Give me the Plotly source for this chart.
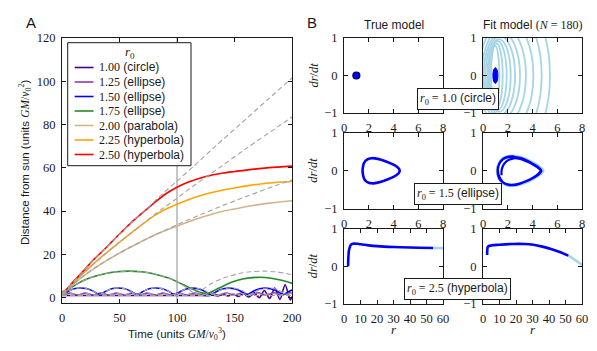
import plotly.graph_objects as go

PAGE_W, PAGE_H = 597, 351
BODY_MARGIN = 8  # default browser body margin around the plot div
W, H = PAGE_W - BODY_MARGIN, PAGE_H - BODY_MARGIN
SERIF = "Liberation Serif"
SANS = "Liberation Sans"
INK = "#1a1a1a"
GREY_DASH = "#a3a3a3"
DARK_BLUE = "#0000ff"
LIGHT_BLUE = "#a6d5e6"

# ---------------- Panel A data ----------------
r0_labels = ["1.00", "1.25", "1.50", "1.75", "2.00", "2.25", "2.50"]
orbit_kinds = ["circle", "ellipse", "ellipse", "ellipse", "parabola", "hyperbola", "hyperbola"]
series_colors = ["#4b0082", "#9a35b5", "#0000ff", "#228b22", "#d2b48c", "#ffa500", "#ff0000"]
train_end = 100

# r0 = 1.00 (circle)
circ_true_t = [0, 200]
circ_true_r = [1.0, 1.0]
circ_fit_t = [0, 25, 50, 75, 100, 118, 126, 131, 135.5, 140, 144.5, 149, 153.5, 158, 162.5,
              167, 171.5, 176, 180.5, 185, 189.5, 194, 198.5, 200]
circ_fit_r = [1.0, 1.03, 0.97, 1.03, 1.0, 1.05, 0.95, 1.2, 0.85, 1.4, 0.75, 1.6, 0.6, 1.9, 0.3,
              2.3, 0.0, 3.3, -0.4, 4.5, -0.8, 6.0, -1.0, 0.5]

# r0 = 1.25 (ellipse)
e125_true_t = [0, 6.76, 13.52, 20.28, 27.04, 33.8, 40.56, 47.32, 54.08, 60.84, 67.6, 74.36, 81.12,
               87.88, 94.64, 101.4, 108.16, 114.92, 121.68, 128.44, 135.2, 141.96, 148.72, 155.48,
               162.24, 169.0, 175.76, 182.52, 189.28, 196.04, 200]
e125_true_r = [1.25, 2.08, 1.25, 2.08, 1.25, 2.08, 1.25, 2.08, 1.25, 2.08, 1.25, 2.08, 1.25, 2.08,
               1.25, 2.08, 1.25, 2.08, 1.25, 2.08, 1.25, 2.08, 1.25, 2.08, 1.25, 2.08, 1.25, 2.08,
               1.25, 2.08, 1.7]
e125_fit_t = [0, 6.76, 13.52, 20.28, 27.04, 33.8, 40.56, 47.32, 54.08, 60.84, 67.6, 74.36, 81.12,
              87.88, 94.64, 101.5, 108.4, 115.3, 122.2, 129.1, 136.0, 142.9, 149.8, 156.7, 163.6,
              170.5, 177.4, 184.3, 191.2, 198.1, 200]
e125_fit_r = [1.25, 2.08, 1.25, 2.08, 1.25, 2.08, 1.25, 2.08, 1.25, 2.08, 1.25, 2.08, 1.25, 2.08,
              1.25, 2.08, 1.25, 2.1, 1.22, 2.12, 1.2, 2.15, 1.18, 2.18, 1.15, 2.2, 1.12, 2.25,
              1.1, 2.25, 2.0]

# r0 = 1.50 (ellipse)
e150_true_t = [0, 1.4, 3, 5.2, 8, 11.4, 16.3, 21.2, 24.6, 27.5, 29.6, 31.2, 32.65,
               34.05, 35.65, 37.85, 40.65, 44.05, 48.95, 53.85, 57.25, 60.15, 62.25, 63.85, 65.3,
               66.7, 68.3, 70.5, 73.3, 76.7, 81.6, 86.5, 89.9, 92.8, 94.9, 96.5, 97.95,
               99.35, 100.95, 103.15, 105.95, 109.35, 114.25, 119.15, 122.55, 125.45, 127.55, 129.15, 130.6,
               132.0, 133.6, 135.8, 138.6, 142.0, 146.9, 151.8, 155.2, 158.1, 160.2, 161.8, 163.25,
               164.65, 166.25, 168.45, 171.25, 174.65, 179.55, 184.45, 187.85, 190.75, 192.85, 194.45, 195.9,
               197.3, 198.9, 200]
e150_true_r = [1.5, 1.7, 2.2, 2.9, 3.6, 4.2, 4.5, 4.2, 3.6, 2.9, 2.2, 1.7, 1.5,
               1.7, 2.2, 2.9, 3.6, 4.2, 4.5, 4.2, 3.6, 2.9, 2.2, 1.7, 1.5,
               1.7, 2.2, 2.9, 3.6, 4.2, 4.5, 4.2, 3.6, 2.9, 2.2, 1.7, 1.5,
               1.7, 2.2, 2.9, 3.6, 4.2, 4.5, 4.2, 3.6, 2.9, 2.2, 1.7, 1.5,
               1.7, 2.2, 2.9, 3.6, 4.2, 4.5, 4.2, 3.6, 2.9, 2.2, 1.7, 1.5,
               1.7, 2.2, 2.9, 3.6, 4.2, 4.5, 4.2, 3.6, 2.9, 2.2, 1.7, 1.5,
               1.7, 2.2, 2.5]
e150_fit_tail_t = [99.3, 100.85, 102.95, 105.65, 108.95, 113.7, 118.45, 121.75, 124.45, 126.55, 128.1, 129.45,
                   130.8, 132.35, 134.45, 137.15, 140.45, 145.2, 149.95, 153.25, 155.95, 158.05, 159.6, 160.95,
                   162.3, 163.85, 165.95, 168.65, 171.95, 176.7, 181.45, 184.75, 187.45, 189.55, 191.1, 192.45,
                   193.8, 195.35, 197.45, 200]
e150_fit_tail_r = [1.7, 2.2, 2.85, 3.5, 4.1, 4.4, 4.1, 3.5, 2.85, 2.2, 1.7, 1.5,
                   1.7, 2.2, 2.85, 3.5, 4.1, 4.4, 4.1, 3.5, 2.85, 2.2, 1.7, 1.5,
                   1.7, 2.2, 2.85, 3.5, 4.1, 4.4, 4.1, 3.5, 2.85, 2.2, 1.7, 1.5,
                   1.7, 2.2, 2.85, 3.5]
e150_fit_t = e150_true_t[:37] + e150_fit_tail_t
e150_fit_r = e150_true_r[:37] + e150_fit_tail_r

# r0 = 1.75 (ellipse)
e175_true_t = [0, 2.6, 6.8, 13.9, 24.4, 38.0, 47.2, 58.2, 69.2, 78.4, 92.0, 102.5, 109.6, 113.8,
               116.4, 119.0, 123.2, 130.3, 140.8, 154.4, 163.6, 174.6, 185.6, 194.8, 200]
e175_true_r = [1.75, 2.39, 4.16, 6.63, 9.18, 11.21, 11.95, 12.25, 11.95, 11.21, 9.18, 6.63, 4.16, 2.39,
               1.75, 2.39, 4.16, 6.63, 9.18, 11.21, 11.95, 12.25, 11.95, 11.21, 10.6]
e175_fit_t = [0, 2.6, 6.8, 13.9, 24.4, 38.0, 47.2, 58.2, 69.2, 78.4, 92.0, 100, 106, 112, 118, 122.5,
              125.5, 128.5, 133, 140, 148, 157, 170, 182, 192, 200]
e175_fit_r = [1.75, 2.39, 4.16, 6.63, 9.18, 11.21, 11.95, 12.25, 11.95, 11.21, 9.18, 7.4, 5.9, 4.3, 2.9,
              2.1, 1.9, 2.3, 3.5, 5.3, 7.2, 8.6, 9.4, 9.0, 7.9, 6.6]

# r0 = 2.00 (parabola)
par_true_t = [0, 5.3, 10.5, 18.7, 30.8, 48, 71.2, 101.3, 119.4, 139.5, 161.9, 186.7, 200]
par_true_r = [2, 4, 6.5, 10, 14.5, 20, 26.5, 34, 38.1, 42.5, 47.1, 52, 54.4]
par_fit_t = [0, 5.3, 10.5, 18.7, 30.8, 48, 71.2, 85, 100, 112, 125, 140, 150, 165, 180, 200]
par_fit_r = [2, 4, 6.5, 10, 14.5, 20, 26.5, 30.0, 33.1, 35.4, 37.7, 39.9, 41.0, 42.5, 43.7, 44.8]

# r0 = 2.25 (hyperbola)
h225_true_t = [0, 4.1, 12.7, 22, 31.4, 46.9, 68.4, 82, 97.6, 116, 136.7, 160, 188.6, 200]
h225_true_r = [2.25, 3.7, 8.4, 13.0, 17.5, 24.3, 33.3, 39.0, 45.0, 52.3, 60.0, 68.9, 79.3, 83.5]
h225_fit_t = [0, 4.1, 12.7, 22, 31.4, 46.9, 68.4, 80, 90, 100, 112, 125, 140, 150, 165, 180, 200]
h225_fit_r = [2.25, 3.7, 8.4, 13.0, 17.5, 24.3, 33.3, 37.8, 40.9, 43.2, 45.7, 47.9, 49.8, 50.7, 52.0, 53.0, 53.7]

# r0 = 2.50 (hyperbola)
h250_true_t = [0, 3.2, 8.5, 19, 28, 38.5, 50, 62, 73.5, 86, 100, 115, 134.5, 155, 179.6, 200]
h250_true_r = [2.5, 3.5, 6.6, 12.6, 17.8, 23.2, 29.4, 35.6, 41.0, 47.3, 53.9, 61.0, 70.5, 80.2, 91.9, 101.5]
h250_fit_t = [0, 3.2, 8.5, 19, 28, 38.5, 50, 62, 73.5, 82, 90, 100, 110, 125, 140, 150, 165, 180, 200]
h250_fit_r = [2.5, 3.5, 6.6, 12.6, 17.8, 23.2, 29.4, 35.6, 40.8, 44.6, 47.9, 51.0, 53.4, 56.0, 57.6, 58.3,
              59.3, 60.1, 60.8]

fit_series = [(circ_fit_t, circ_fit_r), (e125_fit_t, e125_fit_r), (e150_fit_t, e150_fit_r),
              (e175_fit_t, e175_fit_r), (par_fit_t, par_fit_r), (h225_fit_t, h225_fit_r),
              (h250_fit_t, h250_fit_r)]
true_series = [(circ_true_t, circ_true_r), (e125_true_t, e125_true_r), (e150_true_t, e150_true_r),
               (e175_true_t, e175_true_r), (par_true_t, par_true_r), (h225_true_t, h225_true_r),
               (h250_true_t, h250_true_r)]

# ---------------- Panel B data (phase space r vs dr/dt) ----------------
true10_r = [1.0]
true10_v = [0.0]
fit10_blob_r = [1.2, 1.14, 1.0, 0.86, 0.8, 0.86, 1.0, 1.14, 1.2]
fit10_blob_v = [0, 0.15, 0.21, 0.15, 0, -0.15, -0.21, -0.15, 0]
fit10_loop_left = [0.65, 0.55, 0.45, 0.35, 0.2, 0.05, -0.1, -0.3, -0.5, -0.7]
fit10_loop_right = [1.32, 1.59, 1.91, 2.24, 2.59, 2.99, 3.47, 4.07, 4.74, 5.41]
fit10_loop_half = [0.79, 0.86, 0.92, 0.97, 1.05, 1.15, 1.3, 1.5, 1.8, 2.1]

true15_r = [1.5, 1.55, 1.6, 1.75, 2.0, 2.25, 2.5, 3.0, 3.5, 4.0, 4.25, 4.45, 4.5, 4.45, 4.25, 4.0,
            3.5, 3.0, 2.5, 2.25, 2.0, 1.75, 1.6, 1.55, 1.5]
true15_v = [0, 0.13, 0.19, 0.27, 0.32, 0.333, 0.327, 0.289, 0.233, 0.161, 0.113, 0.05, 0, -0.05,
            -0.113, -0.161, -0.233, -0.289, -0.327, -0.333, -0.32, -0.27, -0.19, -0.13, 0]
fit15_r = [1.5, 1.5, 1.6, 1.8, 2.1, 2.5, 3.0, 3.5, 4.0, 4.4, 4.65, 4.4, 4.0, 3.5, 3.0, 2.5, 2.0, 1.6,
           1.35, 1.2, 1.3, 1.6, 2.0, 2.5, 3.0, 3.5, 4.0, 4.45, 4.72, 4.45, 4.0, 3.5, 3.0, 2.5, 2.0,
           1.6, 1.3, 1.18, 1.3, 1.6, 2.0, 2.5]
fit15_v = [-0.12, 0.0, 0.12, 0.22, 0.29, 0.33, 0.31, 0.25, 0.17, 0.09, 0.0, -0.1, -0.19, -0.27, -0.33,
           -0.37, -0.36, -0.3, -0.18, 0.0, 0.17, 0.3, 0.36, 0.37, 0.34, 0.28, 0.19, 0.1, 0.0, -0.11,
           -0.2, -0.28, -0.34, -0.38, -0.37, -0.31, -0.2, 0.0, 0.18, 0.31, 0.37, 0.38]
fit15x_r = [1.15, 1.3, 1.6, 2.0, 2.5, 3.0, 3.5, 4.0, 4.5, 4.85, 4.5, 4.0, 3.5, 3.0, 2.5, 2.0, 1.6, 1.3, 1.15]
fit15x_v = [0, 0.2, 0.33, 0.38, 0.39, 0.36, 0.3, 0.22, 0.12, 0, -0.12, -0.22, -0.3, -0.36, -0.39,
            -0.39, -0.33, -0.2, 0]

true25_r = [2.5, 2.6, 3, 3.5, 4, 5, 6, 8, 10, 15, 20, 30, 40, 54]
true25_v = [0, 0.2, 0.415, 0.5, 0.557, 0.592, 0.6, 0.595, 0.581, 0.553, 0.533, 0.51, 0.496, 0.485]
true25x_r = [54, 58, 62]
true25x_v = [0.485, 0.482, 0.48]
fit25_r = [2.5, 2.6, 3, 5, 10, 18, 25, 30.5, 36, 42.6, 47, 51.7]
fit25_v = [0.3, 0.42, 0.52, 0.55, 0.57, 0.59, 0.59, 0.57, 0.52, 0.44, 0.37, 0.28]
fit25x_r = [51.7, 55, 58, 61]
fit25x_v = [0.28, 0.19, 0.1, 0.0]

panel_b_labels = ["1.0 (circle)", "1.5 (ellipse)", "2.5 (hyperbola)"]

# ---------------- figure ----------------
fig = go.Figure()


def xp(px):
    return (px - BODY_MARGIN) / W


def yp(py):
    return 1 - (py - BODY_MARGIN) / H


def axis(domain, rng, tickvals, anchor, lw=1):
    return dict(domain=domain, range=rng, tickvals=tickvals, anchor=anchor, ticks="inside",
                ticklen=4, tickwidth=1, tickcolor=INK, showline=True, linecolor=INK, linewidth=lw,
                mirror="allticks", showgrid=False, zeroline=False, fixedrange=True, automargin=False,
                tickfont=dict(family=SERIF, size=12.5, color=INK), ticklabelstandoff=3)


for (t, r), col in zip(fit_series, series_colors):
    fig.add_trace(go.Scatter(x=t, y=r, mode="lines", line=dict(color=col, width=1.6, shape="spline",
                             smoothing=0.8), showlegend=False, xaxis="x", yaxis="y"))
for (t, r) in true_series:
    fig.add_trace(go.Scatter(x=t, y=r, mode="lines", line=dict(color=GREY_DASH, width=1.1, dash="5px,3px",
                             shape="spline", smoothing=0.8), showlegend=False, xaxis="x", yaxis="y"))

fig.add_trace(go.Scatter(x=true10_r, y=true10_v, mode="markers",
                         marker=dict(color=DARK_BLUE, size=7, line=dict(color="#000033", width=1.2)),
                         showlegend=False, xaxis="x2", yaxis="y2"))
fig.add_trace(go.Scatter(x=fit10_blob_r, y=fit10_blob_v, mode="lines", fill="toself", fillcolor=DARK_BLUE,
                         line=dict(color=DARK_BLUE, width=1, shape="spline"), showlegend=False,
                         xaxis="x3", yaxis="y3"))
fig.add_trace(go.Scatter(x=true15_r, y=true15_v, mode="lines", line=dict(color=DARK_BLUE, width=2.6, shape="spline"),
                         showlegend=False, xaxis="x4", yaxis="y4"))
fig.add_trace(go.Scatter(x=fit15x_r, y=fit15x_v, mode="lines", line=dict(color=LIGHT_BLUE, width=3, shape="spline"),
                         showlegend=False, xaxis="x5", yaxis="y5"))
fig.add_trace(go.Scatter(x=fit15_r, y=fit15_v, mode="lines", line=dict(color=DARK_BLUE, width=2.2, shape="spline"),
                         showlegend=False, xaxis="x5", yaxis="y5"))
fig.add_trace(go.Scatter(x=true25x_r, y=true25x_v, mode="lines", line=dict(color=LIGHT_BLUE, width=2.6),
                         showlegend=False, xaxis="x6", yaxis="y6"))
fig.add_trace(go.Scatter(x=true25_r, y=true25_v, mode="lines", line=dict(color=DARK_BLUE, width=2.6, shape="spline"),
                         showlegend=False, xaxis="x6", yaxis="y6"))
fig.add_trace(go.Scatter(x=fit25x_r, y=fit25x_v, mode="lines", line=dict(color=LIGHT_BLUE, width=2.6, shape="spline"),
                         showlegend=False, xaxis="x7", yaxis="y7"))
fig.add_trace(go.Scatter(x=fit25_r, y=fit25_v, mode="lines", line=dict(color=DARK_BLUE, width=2.6, shape="spline"),
                         showlegend=False, xaxis="x7", yaxis="y7"))

colB1 = [xp(344), xp(443)]
colB2 = [xp(483), xp(582)]
rowB1 = [yp(113), yp(38)]
rowB2 = [yp(208.5), yp(133)]
rowB3 = [yp(304), yp(228.5)]

layout = dict(
    template="none",
    width=W, height=H, autosize=False, margin=dict(l=0, r=0, t=0, b=0, pad=0),
    paper_bgcolor="white", plot_bgcolor="white", showlegend=False,
    xaxis=axis([xp(62), xp(292)], [0, 200], [0, 50, 100, 150, 200], "y", lw=1.2),
    yaxis=axis([yp(303.3), yp(38)], [-2.6, 120], [0, 20, 40, 60, 80, 100, 120], "x", lw=1.2),
    xaxis2=axis(colB1, [0, 8], [0, 2, 4, 6, 8], "y2"),
    yaxis2=axis(rowB1, [-1, 1], [-1, 0, 1], "x2"),
    xaxis3=axis(colB2, [0, 8], [0, 2, 4, 6, 8], "y3"),
    yaxis3=axis(rowB1, [-1, 1], [-1, 0, 1], "x3"),
    xaxis4=axis(colB1, [0, 8], [0, 2, 4, 6, 8], "y4"),
    yaxis4=axis(rowB2, [-1, 1], [-1, 0, 1], "x4"),
    xaxis5=axis(colB2, [0, 8], [0, 2, 4, 6, 8], "y5"),
    yaxis5=axis(rowB2, [-1, 1], [-1, 0, 1], "x5"),
    xaxis6=axis(colB1, [0, 60], [0, 10, 20, 30, 40, 50, 60], "y6"),
    yaxis6=axis(rowB3, [-1, 1], [-1, 0, 1], "x6"),
    xaxis7=axis(colB2, [0, 60], [0, 10, 20, 30, 40, 50, 60], "y7"),
    yaxis7=axis(rowB3, [-1, 1], [-1, 0, 1], "x7"),
)

shapes = []
shapes.append(dict(type="line", xref="x", yref="y domain", x0=train_end, x1=train_end, y0=0, y1=1,
                   line=dict(color="#8c8c8c", width=1), layer="below"))
for lft, rgt, hh in zip(fit10_loop_left, fit10_loop_right, fit10_loop_half):
    shapes.append(dict(type="circle", xref="x3", yref="y3", x0=lft, x1=rgt, y0=-hh, y1=hh,
                       line=dict(color=LIGHT_BLUE, width=1.8), layer="below"))

leg_x0, leg_x1, leg_y0, leg_y1 = 67.7, 191, 42.7, 165.7
shapes.append(dict(type="rect", xref="paper", yref="paper", x0=xp(leg_x0), x1=xp(leg_x1),
                   y0=yp(leg_y1), y1=yp(leg_y0), fillcolor="white", line=dict(color=INK, width=1),
                   layer="above"))
leg_rows = [67.5, 82, 96.5, 111, 125.5, 140, 154.5]
annotations = []
for yy, col, lab, kind in zip(leg_rows, series_colors, r0_labels, orbit_kinds):
    shapes.append(dict(type="line", xref="paper", yref="paper", x0=xp(74.7), x1=xp(93.5), y0=yp(yy), y1=yp(yy),
                       line=dict(color=col, width=1.6), layer="above"))
    annotations.append(dict(xref="paper", yref="paper", x=xp(96.5), y=yp(yy), xanchor="left", yanchor="middle",
                            showarrow=False,
                            text=f'<span style="font-family:{SERIF}">{lab}</span> ({kind})',
                            font=dict(family=SANS, size=12, color=INK)))
annotations.append(dict(xref="paper", yref="paper", x=xp(129.5), y=yp(52.5), xanchor="center", yanchor="middle",
                        showarrow=False, text="<i>r</i><sub>0</sub>",
                        font=dict(family=SERIF, size=13, color=INK)))

annotations += [
    dict(xref="paper", yref="paper", x=xp(31), y=yp(22), text="A", showarrow=False,
         font=dict(family=SANS, size=15, color=INK), xanchor="center", yanchor="middle"),
    dict(xref="paper", yref="paper", x=xp(312), y=yp(22), text="B", showarrow=False,
         font=dict(family=SANS, size=15, color=INK), xanchor="center", yanchor="middle"),
    dict(xref="paper", yref="paper", x=xp(394), y=yp(25), text="True model", showarrow=False,
         font=dict(family=SANS, size=12, color=INK), xanchor="center", yanchor="middle"),
    dict(xref="paper", yref="paper", x=xp(532.5), y=yp(25),
         text=f'Fit model <span style="font-family:{SERIF}">(<i>N</i> = 180)</span>', showarrow=False,
         font=dict(family=SANS, size=12, color=INK), xanchor="center", yanchor="middle"),
    dict(xref="paper", yref="paper", x=xp(177), y=yp(334),
         text=f'Time (units <span style="font-family:{SERIF}"><i>GM</i>/<i>v</i><sub>0</sub><sup>3</sup></span>)',
         showarrow=False, font=dict(family=SANS, size=11.5, color=INK), xanchor="center", yanchor="middle"),
    dict(xref="paper", yref="paper", x=xp(25), y=yp(163), textangle=-90,
         text=f'Distance from sun (units <span style="font-family:{SERIF}"><i>GM</i>/<i>v</i><sub>0</sub><sup>2</sup></span>)',
         showarrow=False, font=dict(family=SANS, size=11.5, color=INK), xanchor="center", yanchor="middle"),
]
for yc in [75.5, 170.7, 266.3]:
    annotations.append(dict(xref="paper", yref="paper", x=xp(313), y=yp(yc), textangle=-90,
                            text="<i>dr</i>/<i>dt</i>", showarrow=False,
                            font=dict(family=SERIF, size=12.5, color=INK), xanchor="center", yanchor="middle"))
for xc in [393.5, 532.5]:
    annotations.append(dict(xref="paper", yref="paper", x=xp(xc), y=yp(329), text="<i>r</i>", showarrow=False,
                            font=dict(family=SERIF, size=13, color=INK), xanchor="center", yanchor="middle"))
for (xc, yc), lab in zip([(458, 98.5), (457.5, 194), (457, 289)], panel_b_labels):
    num, kind = lab.split(" ", 1)
    annotations.append(dict(xref="paper", yref="paper", x=xp(xc), y=yp(yc), xanchor="center", yanchor="middle",
                            showarrow=False, bgcolor="white", bordercolor=INK, borderwidth=1, borderpad=2,
                            text=f'<span style="font-family:{SERIF}"><i>r</i><sub>0</sub> = {num}</span> {kind}',
                            font=dict(family=SANS, size=12, color=INK)))

layout["shapes"] = shapes
layout["annotations"] = annotations
fig.update_layout(**layout)
fig.write_html("out.html")
